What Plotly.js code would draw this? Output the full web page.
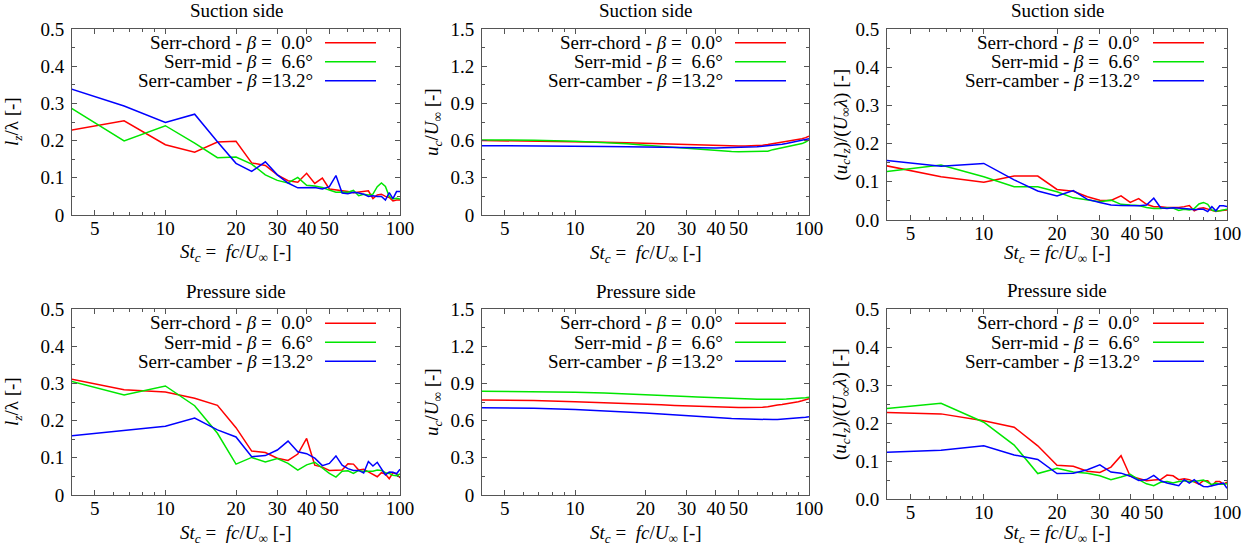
<!DOCTYPE html>
<html><head><meta charset="utf-8">
<script src="https://cdn.plot.ly/plotly-3.0.1.min.js"></script>
<style>html,body{margin:0;padding:0;background:#fff}#chart{width:1256px;height:552px}</style>
</head><body><div id="chart"></div>
<script>
// Strouhal number St_c = f c / U_inf
const St = [3.33,6.67,10,13.33,16.67,20,23.33,26.67,30,33.33,36.67,40,43.33,46.67,50,53.33,56.67,60,63.33,66.67,70,73.33,76.67,80,83.33,86.67,90,93.33,96.67,100];

const seriesNames = ['Serr-chord - <i>β</i> =  0.0°', 'Serr-mid - <i>β</i> =  6.6°', 'Serr-camber - <i>β</i> =13.2°'];
const seriesColors = ['#ff0000', '#00e600', '#0000ff'];
const panelTitles = ['Suction side', 'Suction side', 'Suction side', 'Pressure side', 'Pressure side', 'Pressure side'];
const xTickVals = [5, 10, 20, 30, 40, 50, 100];
const xTickText = ['5', '10', '20', '30', '40', '50', '100'];

// Suction side: l_z / lambda
const sucLzChord  = [0.220,0.253,0.189,0.169,0.196,0.198,0.140,0.133,0.108,0.092,0.088,0.112,0.085,0.099,0.070,0.068,0.065,0.063,0.060,0.062,0.063,0.065,0.044,0.054,0.056,0.050,0.047,0.038,0.040,0.040];
const sucLzMid    = [0.317,0.199,0.240,0.193,0.154,0.156,0.137,0.108,0.093,0.086,0.101,0.080,0.078,0.074,0.067,0.061,0.062,0.061,0.066,0.052,0.056,0.054,0.056,0.076,0.086,0.077,0.050,0.043,0.045,0.043];
const sucLzCamber = [0.354,0.293,0.249,0.271,0.197,0.139,0.117,0.143,0.108,0.086,0.073,0.073,0.074,0.070,0.076,0.106,0.059,0.057,0.061,0.059,0.056,0.050,0.052,0.050,0.050,0.040,0.060,0.044,0.063,0.063];

// Suction side: u_c / U_inf
const sucUcChord  = [0.603,0.598,0.592,0.587,0.582,0.577,0.573,0.569,0.566,0.563,0.561,0.559,0.558,0.557,0.557,0.557,0.558,0.560,0.563,0.568,0.575,0.580,0.584,0.589,0.595,0.601,0.607,0.615,0.624,0.635];
const sucUcMid    = [0.606,0.603,0.595,0.585,0.574,0.563,0.553,0.545,0.537,0.530,0.524,0.519,0.515,0.512,0.511,0.511,0.512,0.513,0.514,0.515,0.527,0.535,0.540,0.545,0.551,0.558,0.566,0.576,0.589,0.605];
const sucUcCamber = [0.560,0.559,0.556,0.553,0.550,0.547,0.545,0.543,0.542,0.541,0.541,0.541,0.542,0.543,0.544,0.546,0.548,0.551,0.554,0.557,0.561,0.566,0.571,0.576,0.582,0.588,0.594,0.600,0.607,0.615];

// Suction side: (u_c l_z)/(U_inf lambda)
const sucConvChord  = [0.152,0.113,0.099,0.115,0.115,0.080,0.075,0.061,0.052,0.051,0.063,0.046,0.056,0.041,0.035,0.035,0.033,0.033,0.033,0.035,0.038,0.024,0.030,0.032,0.029,0.026,0.022,0.024,0.025,0.026];
const sucConvMid    = [0.121,0.144,0.113,0.087,0.087,0.074,0.058,0.052,0.048,0.052,0.041,0.039,0.038,0.033,0.030,0.030,0.032,0.031,0.025,0.028,0.026,0.030,0.042,0.046,0.041,0.026,0.023,0.024,0.026,0.028];
const sucConvCamber = [0.161,0.141,0.148,0.105,0.076,0.063,0.077,0.054,0.046,0.039,0.038,0.038,0.037,0.039,0.057,0.032,0.030,0.032,0.030,0.030,0.029,0.027,0.028,0.028,0.022,0.035,0.024,0.037,0.037,0.035];

// Pressure side: l_z / lambda
const preLzChord  = [0.321,0.283,0.277,0.260,0.241,0.181,0.118,0.114,0.099,0.093,0.110,0.152,0.080,0.075,0.066,0.066,0.067,0.084,0.083,0.067,0.069,0.062,0.056,0.049,0.060,0.056,0.044,0.060,0.057,0.046];
const preLzMid    = [0.318,0.269,0.293,0.240,0.166,0.083,0.101,0.089,0.098,0.085,0.067,0.081,0.088,0.072,0.058,0.048,0.064,0.065,0.058,0.066,0.063,0.064,0.064,0.067,0.066,0.060,0.058,0.053,0.052,0.057];
const preLzCamber = [0.154,0.173,0.185,0.207,0.175,0.156,0.103,0.106,0.121,0.145,0.116,0.111,0.099,0.079,0.085,0.105,0.080,0.071,0.066,0.066,0.059,0.090,0.078,0.088,0.071,0.054,0.062,0.061,0.057,0.069];

// Pressure side: u_c / U_inf
const preUcChord  = [0.767,0.762,0.752,0.745,0.738,0.732,0.727,0.722,0.718,0.714,0.711,0.708,0.706,0.705,0.705,0.705,0.705,0.706,0.708,0.712,0.722,0.726,0.730,0.735,0.740,0.746,0.752,0.760,0.768,0.777];
const preUcMid    = [0.838,0.835,0.828,0.822,0.816,0.810,0.805,0.800,0.795,0.791,0.787,0.784,0.781,0.779,0.777,0.775,0.774,0.773,0.772,0.772,0.772,0.772,0.773,0.774,0.775,0.777,0.779,0.781,0.784,0.788];
const preUcCamber = [0.705,0.700,0.690,0.680,0.670,0.661,0.653,0.645,0.638,0.632,0.627,0.623,0.620,0.617,0.615,0.613,0.611,0.610,0.609,0.608,0.608,0.609,0.611,0.613,0.615,0.618,0.621,0.624,0.627,0.631];

// Pressure side: (u_c l_z)/(U_inf lambda)
const preConvChord  = [0.229,0.224,0.206,0.189,0.140,0.089,0.086,0.073,0.070,0.084,0.114,0.060,0.054,0.048,0.050,0.051,0.063,0.061,0.051,0.053,0.051,0.044,0.039,0.048,0.048,0.035,0.046,0.046,0.039,0.044];
const preConvMid    = [0.233,0.252,0.202,0.142,0.067,0.081,0.071,0.068,0.061,0.051,0.058,0.065,0.051,0.040,0.035,0.044,0.046,0.042,0.046,0.048,0.046,0.046,0.048,0.050,0.044,0.038,0.042,0.039,0.039,0.040];
const preConvCamber = [0.121,0.128,0.140,0.116,0.104,0.067,0.068,0.077,0.090,0.071,0.068,0.060,0.049,0.051,0.062,0.048,0.042,0.038,0.035,0.051,0.042,0.051,0.040,0.033,0.032,0.035,0.037,0.039,0.042,0.028];

const yTitleLz = '<i>l<sub>z</sub></i>/λ [-]';
const yTitleUc = '<i>u<sub>c</sub></i>/<i>U</i><sub>∞</sub> [-]';
const yTitleConv = '(<i>u<sub>c</sub>l<sub>z</sub></i>)/(<i>U</i><sub>∞</sub><i>λ</i>) [-]';
const xTitleWide = '<i>St<sub>c</sub></i> =  <i>fc</i>/<i>U</i><sub>∞</sub> [-]';
const xTitleNarrow = '<i>St<sub>c</sub></i> = <i>fc</i>/<i>U</i><sub>∞</sub> [-]';

const W = 1256, H = 552;
const FONT = '"Liberation Serif", "Times New Roman", Times, serif';
const AX = '#555';
const fx = v => v / W, fy = v => 1 - v / H;

const panels = [
  {data:[sucLzChord,sucLzMid,sucLzCamber], x0:72,x1:400,y0:29,y1:215, ymax:0.5,dt:0.1,fmt:'', ytitle:yTitleLz, xtitle:xTitleWide, yt:13, title:panelTitles[0], ty:11, xty:253, leg:[42.3,61.7,81], sx:325, tr:315},
  {data:[sucUcChord,sucUcMid,sucUcCamber], x0:482,x1:809,y0:29,y1:215, ymax:1.5,dt:0.3,fmt:'', ytitle:yTitleUc, xtitle:xTitleWide, yt:433, title:panelTitles[1], ty:11, xty:254, leg:[42.3,61.7,81], sx:735, tr:725},
  {data:[sucConvChord,sucConvMid,sucConvCamber], x0:887,x1:1227,y0:29,y1:220, ymax:0.5,dt:0.1,fmt:'.1f', ytitle:yTitleConv, xtitle:xTitleNarrow, yt:841, title:panelTitles[2], ty:11, xty:254, leg:[42.3,61.7,81], sx:1153, tr:1142},
  {data:[preLzChord,preLzMid,preLzCamber], x0:72,x1:400,y0:309,y1:495, ymax:0.5,dt:0.1,fmt:'', ytitle:yTitleLz, xtitle:xTitleWide, yt:13, title:panelTitles[3], ty:291, xty:534, leg:[322.7,342,361.7], sx:325, tr:315},
  {data:[preUcChord,preUcMid,preUcCamber], x0:482,x1:809,y0:309,y1:495, ymax:1.5,dt:0.3,fmt:'', ytitle:yTitleUc, xtitle:xTitleWide, yt:433, title:panelTitles[4], ty:291, xty:534, leg:[322.7,342,361.7], sx:735, tr:725},
  {data:[preConvChord,preConvMid,preConvCamber], x0:887,x1:1227,y0:309,y1:499, ymax:0.5,dt:0.1,fmt:'.1f', ytitle:yTitleConv, xtitle:xTitleNarrow, yt:841, title:panelTitles[5], ty:290, xty:534, leg:[322.7,342,361.7], sx:1153, tr:1142}
];

const traces = [];
const layout = {
  width: W, height: H, margin: {l:0, r:0, t:0, b:0},
  paper_bgcolor: '#fff', plot_bgcolor: '#fff',
  font: {family: FONT, size: 18, color: '#000'},
  annotations: [], showlegend: true
};

panels.forEach((p, i) => {
  const s = i === 0 ? '' : String(i + 1);
  const legKey = 'legend' + s;
  p.data.forEach((ys, j) => {
    traces.push({
      x: St, y: ys, type: 'scatter', mode: 'lines',
      xaxis: 'x' + s, yaxis: 'y' + s,
      line: {color: seriesColors[j], width: 1.5},
      name: ' ', legend: legKey, showlegend: true, hoverinfo: 'skip'
    });
  });
  layout['xaxis' + s] = {
    domain: [fx(p.x0), fx(p.x1)], anchor: 'y' + s, type: 'log',
    range: [Math.log10(4), 2], tickmode: 'array', tickvals: xTickVals, ticktext: xTickText,
    ticks: 'inside', ticklen: 5, tickcolor: AX, tickwidth: 1,
    minor: {dtick: 'D1', ticks: 'inside', ticklen: 3, tickcolor: AX, tickwidth: 1, showgrid: false},
    showline: true, linecolor: AX, linewidth: 1, mirror: 'ticks',
    showgrid: false, zeroline: false, fixedrange: true, ticklabelstandoff: -4,
    tickfont: {family: FONT, size: 19, color: '#000'}
  };
  layout['yaxis' + s] = {
    domain: [fy(p.y1), fy(p.y0)], anchor: 'x' + s,
    range: [0, p.ymax], tickmode: 'linear', tick0: 0, dtick: p.dt, tickformat: p.fmt,
    ticks: 'inside', ticklen: 5, tickcolor: AX, tickwidth: 1,
    minor: {dtick: p.dt / 2, ticks: 'inside', ticklen: 3, tickcolor: AX, tickwidth: 1, showgrid: false},
    showline: true, linecolor: AX, linewidth: 1, mirror: 'ticks',
    showgrid: false, zeroline: false, fixedrange: true, ticklabelstandoff: 3,
    tickfont: {family: FONT, size: 19, color: '#000'}
  };
  layout[legKey] = {
    x: fx(p.sx - 5), xanchor: 'left', y: fy(p.leg[0] - 14), yanchor: 'top',
    bgcolor: 'rgba(0,0,0,0)', borderwidth: 0, itemwidth: 51,
    font: {family: FONT, size: 12, color: '#000'}, tracegroupgap: 0,
    itemclick: false, itemdoubleclick: false
  };
  const cx = (p.x0 + p.x1) / 2, cy = (p.y0 + p.y1) / 2;
  layout.annotations.push(
    {text: p.title, xref:'paper', yref:'paper', x: fx(cx), y: fy(p.ty), xanchor:'center', yanchor:'middle', showarrow:false, font:{family:FONT,size:19,color:'#000'}},
    {text: p.xtitle, xref:'paper', yref:'paper', x: fx(cx), y: fy(p.xty), xanchor:'center', yanchor:'middle', showarrow:false, font:{family:FONT,size:19,color:'#000'}},
    {text: p.ytitle, xref:'paper', yref:'paper', x: fx(p.yt), y: fy(cy), xanchor:'center', yanchor:'middle', textangle:-90, showarrow:false, font:{family:FONT,size:19,color:'#000'}}
  );
  seriesNames.forEach((nm, j) => {
    layout.annotations.push({text: nm, xref:'paper', yref:'paper', x: fx(p.tr), y: fy(p.leg[j]), xanchor:'right', yanchor:'middle', showarrow:false, font:{family:FONT,size:19,color:'#000'}});
  });
});

Plotly.newPlot('chart', traces, layout, {staticPlot: true, displayModeBar: false});
</script>
</body></html>
